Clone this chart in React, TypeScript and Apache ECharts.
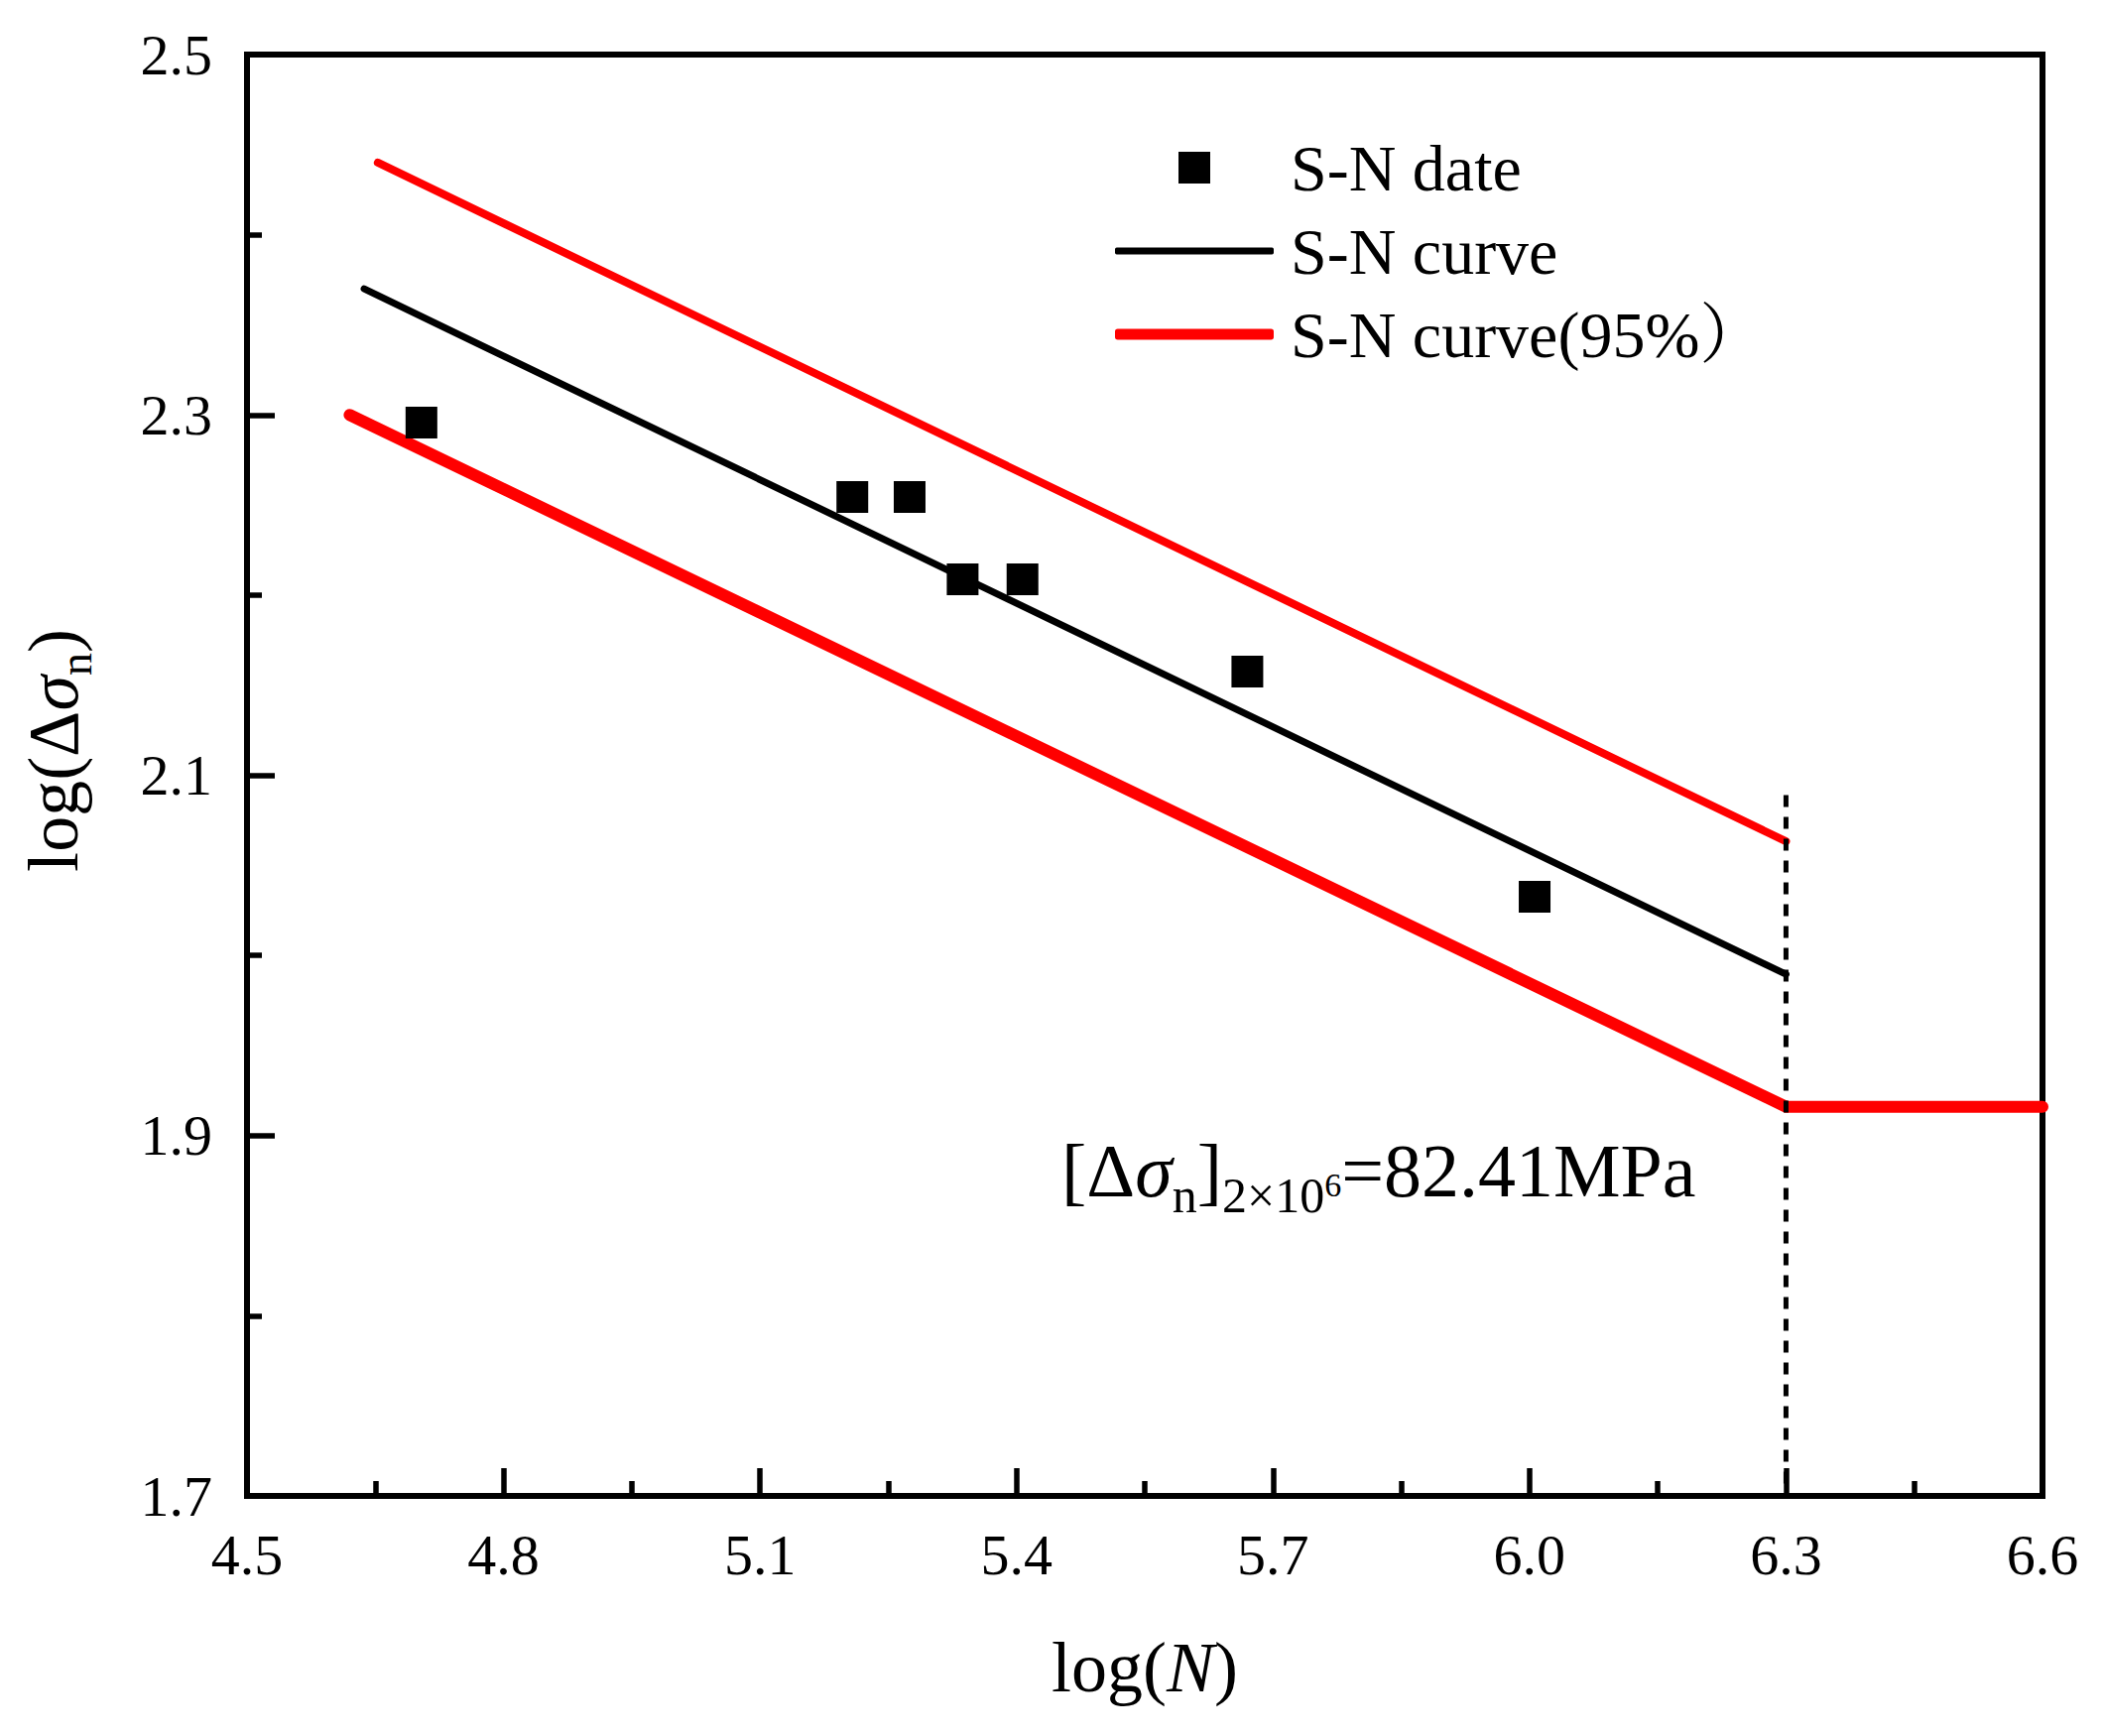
import React, { useEffect, useRef } from 'react';
import * as echarts from 'echarts';

// ---- data ----
const snData: number[][] = [
  [4.704, 2.2957],
  [5.208, 2.2544],
  [5.275, 2.2544],
  [5.337, 2.2087],
  [5.407, 2.2087],
  [5.670, 2.1575],
  [6.006, 2.0325],
];
const snCurve: number[][] = [
  [4.637, 2.370],
  [6.3, 1.9895],
];
const snUpper95: number[][] = [
  [4.653, 2.440],
  [6.3, 2.0633],
];
const snLower95: number[][] = [
  [4.620, 2.300],
  [6.3, 1.916],
  [6.6, 1.916],
];
const limitLine: number[][] = [
  [6.3, 2.089],
  [6.3, 1.7],
];
const yLabelValues = [1.7, 1.9, 2.1, 2.3, 2.5];
const yMinorValues = [1.8, 2.0, 2.2, 2.4];

const SERIF = "'Liberation Serif', 'Times New Roman', 'Noto Serif CJK SC', 'Noto Sans CJK SC', serif";
const BLACK = '#000000';
const RED = '#ff0000';

const fmt1 = (v: number) => v.toFixed(1);

const legendText = (padLeft: number) => ({
  fontSize: 66,
  fontFamily: SERIF,
  color: BLACK,
  lineHeight: 66,
  padding: [0, 0, 0, padLeft],
});

const option: any = {
  animation: false,
  backgroundColor: '#ffffff',
  grid: {
    left: 249,
    right: 62,
    top: 55,
    bottom: 242,
    show: true,
    borderColor: BLACK,
    borderWidth: 6,
    containLabel: false,
  },
  legend: [
    {
      data: [{ name: 'S-N date', icon: 'rect' }],
      left: 1188,
      top: 136,
      padding: 0,
      itemWidth: 32,
      itemHeight: 32,
      selectedMode: false,
      itemStyle: { color: BLACK, borderWidth: 0, opacity: 1 },
      textStyle: legendText(76),
    },
    {
      data: [{ name: 'S-N curve', icon: 'roundRect' }],
      left: 1124,
      top: 220,
      padding: 0,
      itemWidth: 160,
      itemHeight: 7,
      selectedMode: false,
      itemStyle: { color: BLACK, borderWidth: 0 },
      textStyle: legendText(12),
    },
    {
      data: [{ name: 'S-N curve(95%）', icon: 'roundRect' }],
      left: 1124,
      top: 304,
      padding: 0,
      itemWidth: 160,
      itemHeight: 11,
      selectedMode: false,
      itemStyle: { color: RED, borderWidth: 0 },
      textStyle: legendText(12),
    },
  ],
  xAxis: {
    type: 'value',
    min: 4.5,
    max: 6.6,
    interval: 0.3,
    axisLine: { show: true, onZero: false, lineStyle: { color: BLACK, width: 6 } },
    axisTick: { show: true, inside: true, length: 28, lineStyle: { color: BLACK, width: 5.5 } },
    minorTick: { show: true, splitNumber: 2, length: 15, lineStyle: { color: BLACK, width: 5.5 } },
    splitLine: { show: false },
    axisLabel: {
      margin: 30,
      color: BLACK,
      fontSize: 58,
      fontFamily: SERIF,
      formatter: fmt1,
      showMinLabel: true,
      showMaxLabel: true,
    },
    name: '{a|log(}{i|N}{a|)}',
    nameLocation: 'middle',
    nameGap: 137,
    nameTextStyle: {
      rich: {
        a: { fontSize: 72, fontFamily: SERIF, color: BLACK, lineHeight: 72 },
        i: { fontSize: 72, fontFamily: SERIF, color: BLACK, lineHeight: 72, fontStyle: 'italic' },
      },
    },
  },
  yAxis: [
    {
      type: 'value',
      min: 1.7,
      max: 2.5,
      interval: 0.1,
      axisLine: { show: true, onZero: false, lineStyle: { color: BLACK, width: 6 } },
      axisTick: {
        show: true,
        inside: true,
        length: 28,
        customValues: yLabelValues,
        lineStyle: { color: BLACK, width: 5.5 },
      },
      splitLine: { show: false },
      axisLabel: {
        customValues: yLabelValues,
        margin: 35,
        color: BLACK,
        fontSize: 58,
        fontFamily: SERIF,
        formatter: fmt1,
      },
      name: '{a|log(Δ}{s|σ}{b|n}{a|)}',
      nameLocation: 'middle',
      nameRotate: 90,
      nameGap: 150,
      nameTextStyle: {
        padding: [0, 0, 0, 50],
        rich: {
          a: { fontSize: 72, fontFamily: SERIF, color: BLACK, lineHeight: 90, verticalAlign: 'middle' },
          s: { fontSize: 72, fontFamily: SERIF, color: BLACK, lineHeight: 90, verticalAlign: 'middle', fontStyle: 'italic' },
          b: { fontSize: 46, fontFamily: SERIF, color: BLACK, lineHeight: 34, verticalAlign: 'bottom' },
        },
      },
    },
    {
      type: 'value',
      min: 1.7,
      max: 2.5,
      interval: 0.1,
      position: 'left',
      axisLine: { show: false },
      axisLabel: { show: false },
      splitLine: { show: false },
      axisTick: {
        show: true,
        inside: true,
        length: 15,
        customValues: yMinorValues,
        lineStyle: { color: BLACK, width: 5.5 },
      },
    },
  ],
  graphic: [
    {
      type: 'text',
      x: 1070,
      y: 1180,
      silent: true,
      style: {
        text: '{m|[Δ}{s|σ}{n|n}{m|]}{b|2×10}{p|6}{m|=82.41MPa}',
        align: 'left',
        verticalAlign: 'middle',
        rich: {
          m: { fontSize: 76, fontFamily: SERIF, fill: BLACK, lineHeight: 100, verticalAlign: 'middle' },
          s: { fontSize: 76, fontFamily: SERIF, fill: BLACK, lineHeight: 100, verticalAlign: 'middle', fontStyle: 'italic' },
          n: { fontSize: 50, fontFamily: SERIF, fill: BLACK, lineHeight: 43, verticalAlign: 'bottom' },
          b: { fontSize: 50, fontFamily: SERIF, fill: BLACK, lineHeight: 43, verticalAlign: 'bottom' },
          p: { fontSize: 34, fontFamily: SERIF, fill: BLACK, verticalAlign: 'bottom', padding: [0, 0, 19, 0] },
        },
      },
    },
  ],
  series: [
    {
      type: 'line',
      name: 'S-N curve(95%）',
      data: snUpper95,
      symbol: 'none',
      showSymbol: false,
      silent: true,
      itemStyle: { color: RED },
      lineStyle: { color: RED, width: 8, cap: 'round' },
      z: 2,
    },
    {
      type: 'line',
      name: 'S-N curve(95%）',
      data: snLower95,
      symbol: 'none',
      showSymbol: false,
      silent: true,
      itemStyle: { color: RED },
      lineStyle: { color: RED, width: 12, cap: 'round', join: 'miter' },
      z: 2,
    },
    {
      type: 'line',
      name: 'S-N curve',
      data: snCurve,
      symbol: 'none',
      showSymbol: false,
      silent: true,
      itemStyle: { color: BLACK },
      lineStyle: { color: BLACK, width: 7, cap: 'round' },
      z: 2,
    },
    {
      type: 'scatter',
      name: 'S-N date',
      data: snData,
      symbol: 'rect',
      symbolSize: 32,
      silent: true,
      itemStyle: { color: BLACK, opacity: 1 },
      z: 3,
    },
    {
      type: 'line',
      name: 'limit',
      data: limitLine,
      symbol: 'none',
      showSymbol: false,
      silent: true,
      lineStyle: { color: BLACK, width: 5, type: [12, 10] },
      z: 4,
    },
  ],
};

export default function App() {
  const ref = useRef<HTMLDivElement>(null);
  useEffect(() => {
    if (!ref.current) return;
    const chart = echarts.init(ref.current, null, { renderer: 'svg' });
    chart.setOption(option);
    return () => {
      chart.dispose();
    };
  }, []);
  return (
    <div
      ref={ref}
      style={{ position: 'absolute', left: 0, top: 0, width: 2121, height: 1750, background: '#ffffff' }}
    />
  );
}
